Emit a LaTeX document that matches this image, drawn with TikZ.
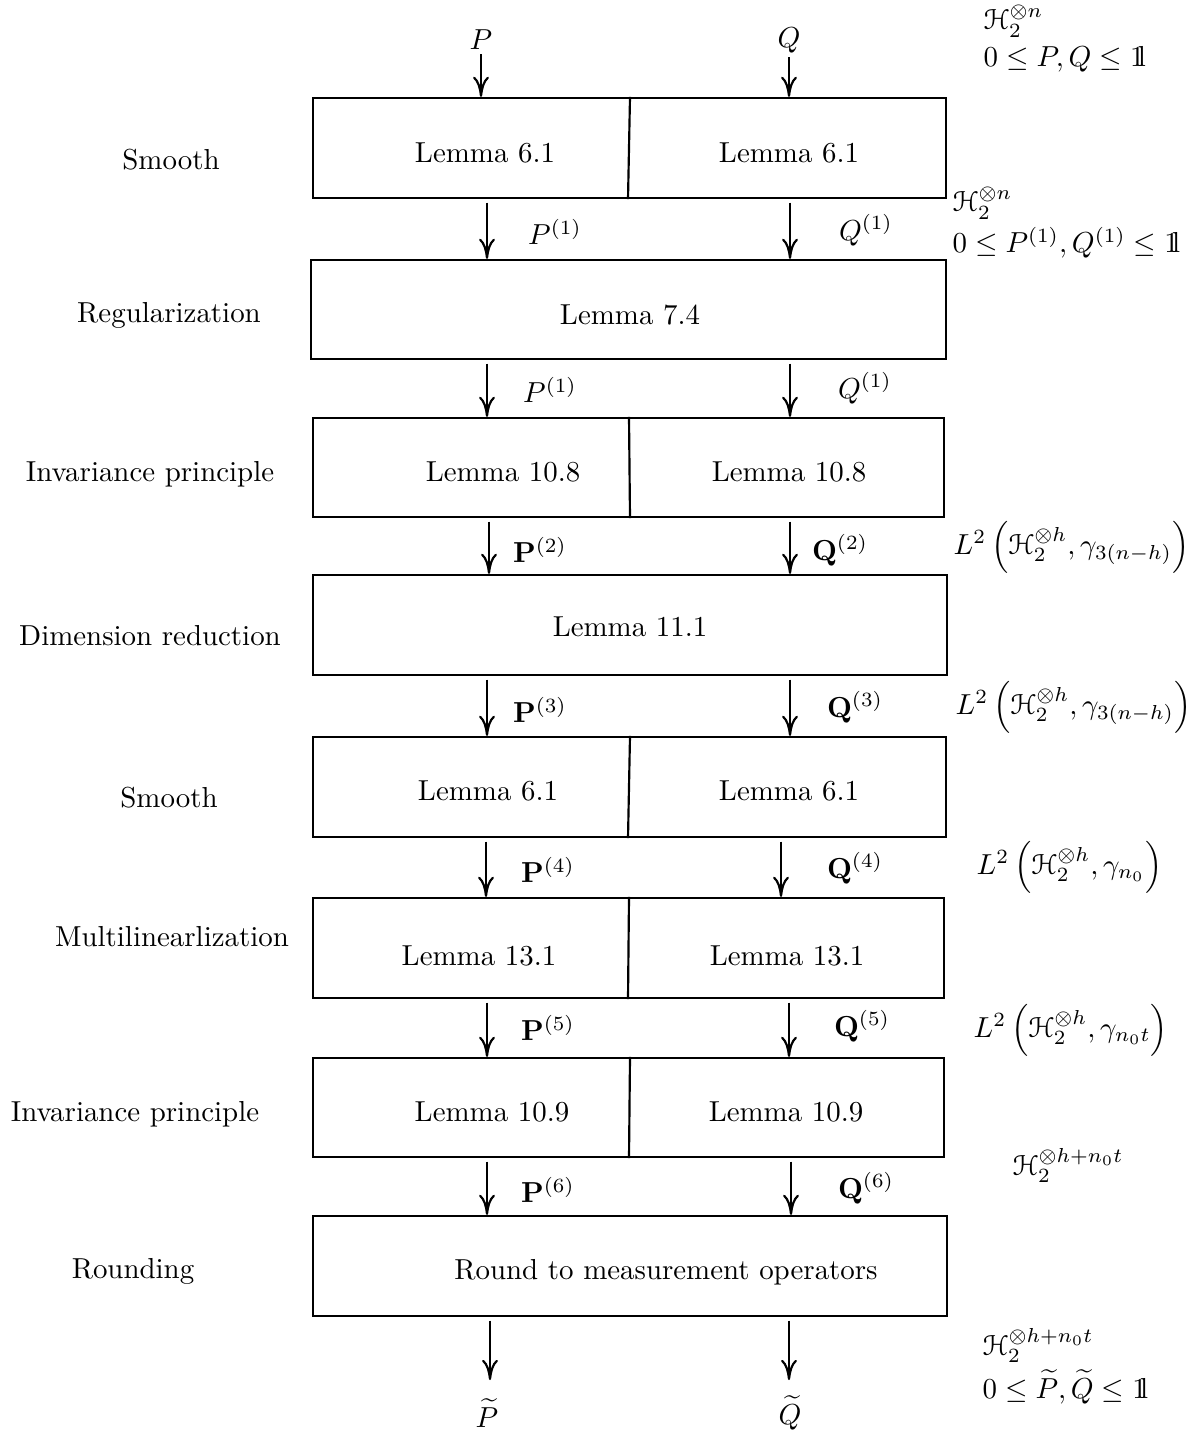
\documentclass[tikz,border=0pt]{standalone}
\usepackage{amsmath,amssymb}
\usepackage{eucal}
\usetikzlibrary{arrows.meta,fit}
\newcommand{\idop}{\mathrm{1\mkern-4.2mu l}}
\begin{document}
\begin{tikzpicture}[x=0.346pt,y=-0.346pt,
  box/.style={draw,line width=0.75pt,inner sep=0pt},
  divider/.style={line width=0.75pt},
  flow/.style={line width=0.75pt,-{Computer Modern Rightarrow[length=7pt,width=5.5pt]}},
  txt/.style={inner sep=0pt},
  rt/.style={inner sep=0pt,anchor=base west}]
\useasboundingbox (0,0) rectangle (1190,1432);

% boxes
\node[box,fit={(313,98) (946,198)}] (b1) {};
\node[box,fit={(311,260) (946,359)}] (b2) {};
\node[box,fit={(313,418) (944,517)}] (b3) {};
\node[box,fit={(313,575) (947,675)}] (b4) {};
\node[box,fit={(313,737) (946,837)}] (b5) {};
\node[box,fit={(313,898) (944,998)}] (b6) {};
\node[box,fit={(313,1058) (944,1157)}] (b7) {};
\node[box,fit={(313,1216) (947,1316)}] (b8) {};

% dividers
\draw[divider] (b1.north -| 630,0) -- (b1.south -| 628,0);
\draw[divider] (b3.north -| 629,0) -- (b3.south -| 630,0);
\draw[divider] (b5.north -| 630,0) -- (b5.south -| 628,0);
\draw[divider] (b6.north -| 629,0) -- (b6.south -| 628,0);
\draw[divider] (b7.north -| 630,0) -- (b7.south -| 629,0);

% box texts
\node[txt] (t1a) at (485,153) {Lemma 6.1};
\node[txt] (t1b) at (789,153) {Lemma 6.1};
\node[txt] (t2) at (630,315) {Lemma 7.4};
\node[txt] (t3a) at (503,472) {Lemma 10.8};
\node[txt] (t3b) at (789,472) {Lemma 10.8};
\node[txt] (t4) at (630,627) {Lemma 11.1};
\node[txt] (t5a) at (488,791) {Lemma 6.1};
\node[txt] (t5b) at (789,791) {Lemma 6.1};
\node[txt] (t6a) at (479,956) {Lemma 13.1};
\node[txt] (t6b) at (787,956) {Lemma 13.1};
\node[txt] (t7a) at (492,1112) {Lemma 10.9};
\node[txt] (t7b) at (786,1112) {Lemma 10.9};
\node[txt] (t8) at (666,1272) {Round to measurement operators};

% left labels
\node[txt] (l1) at (171,160) {Smooth};
\node[txt] (l2) at (169,315) {Regularization};
\node[txt] (l3) at (150,474) {Invariance principle};
\node[txt] (l4) at (150,636) {Dimension reduction};
\node[txt] (l5) at (169,798) {Smooth};
\node[txt] (l6) at (172,937) {Multilinearlization};
\node[txt] (l7) at (135,1114) {Invariance principle};
\node[txt] (l8) at (133,1271) {Rounding};

% top inputs
\node[txt] (P) at (481,40) {$P$};
\node[txt] (Q) at (789,40) {$Q$};
\draw[flow] (P.south) ++(0,4) -- (b1.north -| P.south);
\draw[flow] (Q.south) ++(0,4) -- (b1.north -| Q.south);

% arrows between boxes
\foreach \u/\v/\xa/\xb in {b1/b2/487/790, b2/b3/487/790, b3/b4/489/790, b4/b5/487/790, b5/b6/486/781, b6/b7/487/789, b7/b8/487/791}{
  \coordinate (s1) at ([yshift=-1.2pt]\u.south -| \xa,0);
  \coordinate (e1) at (\v.north -| \xa,0);
  \coordinate (s2) at ([yshift=-1.2pt]\u.south -| \xb,0);
  \coordinate (e2) at (\v.north -| \xb,0);
  \draw[flow] (s1) -- (e1);
  \draw[flow] (s2) -- (e2);
}

% outputs
\node[txt] (Pt) at (487,1413) {$\widetilde{P}$};
\node[txt] (Qt) at (790,1413) {$\widetilde{Q}$};
\coordinate (o1) at ([yshift=-1.2pt]b8.south -| 490,0);
\coordinate (o2) at ([yshift=-1.2pt]b8.south -| 789,0);
\coordinate (o1e) at (490,1380);
\coordinate (o2e) at (789,1380);
\draw[flow] (o1) -- (o1e);
\draw[flow] (o2) -- (o2e);

% arrow labels
\node[txt] (p1) at (555,232) {$P^{(1)}$};
\node[txt] (q1) at (866,230) {$Q^{(1)}$};
\node[txt] (p1b) at (550,390) {$P^{(1)}$};
\node[txt] (q1b) at (865,388) {$Q^{(1)}$};
\node[txt] (p2) at (540,550) {$\mathbf{P}^{(2)}$};
\node[txt] (q2) at (840,550) {$\mathbf{Q}^{(2)}$};
\node[txt] (p3) at (540,710) {$\mathbf{P}^{(3)}$};
\node[txt] (q3) at (855,707) {$\mathbf{Q}^{(3)}$};
\node[txt] (p4) at (548,870) {$\mathbf{P}^{(4)}$};
\node[txt] (q4) at (855,868) {$\mathbf{Q}^{(4)}$};
\node[txt] (p5) at (548,1028) {$\mathbf{P}^{(5)}$};
\node[txt] (q5) at (862,1026) {$\mathbf{Q}^{(5)}$};
\node[txt] (p6) at (548,1190) {$\mathbf{P}^{(6)}$};
\node[txt] (q6) at (866,1188) {$\mathbf{Q}^{(6)}$};

% right annotations
\node[rt] (r1a) at (983,30) {$\mathcal{H}_2^{\otimes n}$};
\node[rt] (r1b) at (983,67) {$0\le P,Q\le \idop$};
\node[rt] (r2a) at (952,212) {$\mathcal{H}_2^{\otimes n}$};
\node[rt] (r2b) at (952,253) {$0\le P^{(1)},Q^{(1)}\le \idop$};
\node[txt,anchor=west] (r3) at (953,547) {$L^2\,\Bigl(\mathcal{H}_2^{\otimes h},\gamma_{3(n-h)}\Bigr)$};
\node[txt,anchor=west] (r4) at (955,707) {$L^2\,\Bigl(\mathcal{H}_2^{\otimes h},\gamma_{3(n-h)}\Bigr)$};
\node[txt,anchor=west] (r5) at (976,867) {$L^2\,\Bigl(\mathcal{H}_2^{\otimes h},\gamma_{n_0}\Bigr)$};
\node[txt,anchor=west] (r6) at (973,1030) {$L^2\,\Bigl(\mathcal{H}_2^{\otimes h},\gamma_{n_0t}\Bigr)$};
\node[rt] (r7) at (1012,1175) {$\mathcal{H}_2^{\otimes h+n_0t}$};
\node[rt] (r8a) at (982,1355) {$\mathcal{H}_2^{\otimes h+n_0t}$};
\node[rt] (r8b) at (982,1398) {$0\le \widetilde{P},\widetilde{Q}\le \idop$};
\end{tikzpicture}
\end{document}
